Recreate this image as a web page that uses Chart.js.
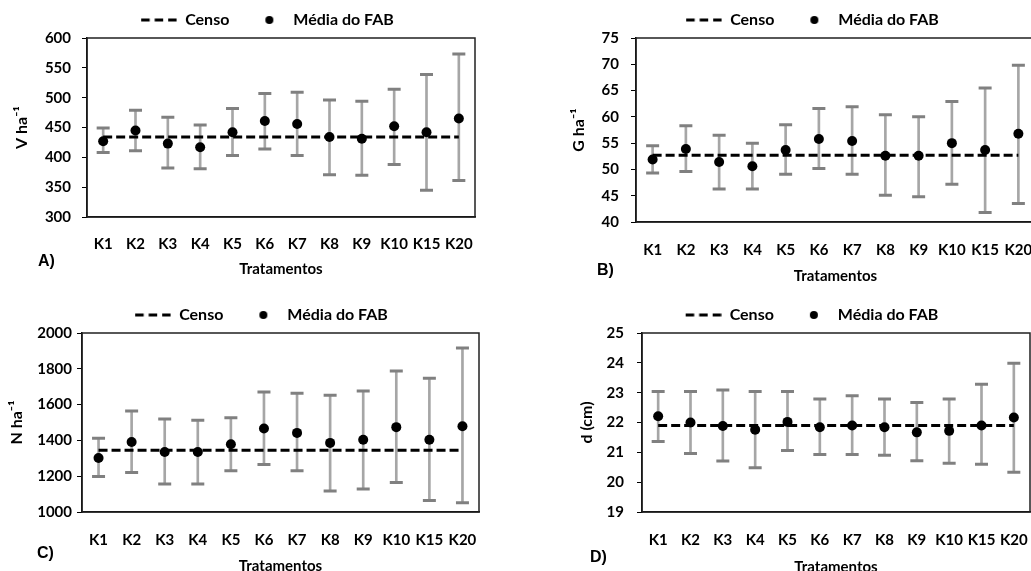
<!DOCTYPE html>
<html>
<head>
<meta charset="utf-8">
<script src="https://cdn.jsdelivr.net/npm/chart.js@4"></script>
<style>
  body { margin: 0; width: 1031px; height: 571px; overflow: hidden; background: #fff; position: relative; }
  .painel { position: absolute; overflow: hidden; }
  .letra { position: absolute; font: bold 16px "Liberation Sans", Arial, sans-serif; line-height: 16px; color: #000; }
</style>
</head>
<body>
<div class="painel" style="left:0;top:0;width:521px;height:276px"><canvas id="graficoA" width="521" height="290"></canvas></div>
<div class="painel" style="left:520px;top:0;width:511px;height:283px"><canvas id="graficoB" width="565" height="290"></canvas></div>
<div class="painel" style="left:0;top:290px;width:504px;height:281px"><canvas id="graficoC" width="504" height="290"></canvas></div>
<div class="painel" style="left:520px;top:290px;width:511px;height:281px"><canvas id="graficoD" width="566" height="290"></canvas></div>
<div class="letra" style="left:38px;top:253px">A)</div>
<div class="letra" style="left:597px;top:262px">B)</div>
<div class="letra" style="left:37px;top:545px">C)</div>
<div class="letra" style="left:590px;top:549px">D)</div>
<script>
// Tratamentos (eixo x)
const tratamentos = ['K1', 'K2', 'K3', 'K4', 'K5', 'K6', 'K7', 'K8', 'K9', 'K10', 'K15', 'K20'];

// A) Volume por hectare
const censoV = 434;
const mediaV = [427, 445, 423, 417, 442, 461, 456, 434, 431, 452, 442, 465];
const infV = [408, 411, 382, 381, 403, 414, 403, 371, 370, 388, 345, 361];
const supV = [449, 479, 467, 454, 482, 507, 509, 496, 494, 514, 539, 573];

// B) Area basal por hectare
const censoG = 52.7;
const mediaG = [51.9, 53.9, 51.4, 50.6, 53.7, 55.8, 55.4, 52.6, 52.6, 55.0, 53.7, 56.8];
const infG = [49.3, 49.6, 46.3, 46.3, 49.1, 50.2, 49.1, 45.1, 44.8, 47.2, 41.8, 43.5];
const supG = [54.5, 58.3, 56.5, 55.0, 58.5, 61.6, 61.9, 60.4, 60.0, 62.9, 65.5, 69.8];

// C) Numero de arvores por hectare
const censoN = 1345;
const mediaN = [1302, 1391, 1335, 1335, 1378, 1466, 1442, 1386, 1404, 1474, 1404, 1479];
const infN = [1199, 1221, 1157, 1157, 1230, 1266, 1230, 1118, 1129, 1165, 1064, 1051];
const supN = [1412, 1564, 1519, 1513, 1526, 1670, 1663, 1652, 1676, 1788, 1747, 1916];

// D) Diametro medio
const censoD = 21.9;
const mediaD = [22.21, 22.0, 21.88, 21.76, 22.02, 21.84, 21.9, 21.84, 21.67, 21.72, 21.9, 22.17];
const infD = [21.36, 20.96, 20.71, 20.48, 21.06, 20.93, 20.93, 20.9, 20.72, 20.63, 20.6, 20.33];
const supD = [23.04, 23.04, 23.09, 23.04, 23.04, 22.79, 22.9, 22.79, 22.67, 22.79, 23.28, 23.99];

const fonte = { family: 'Lato', weight: 'bold', size: 15 };
const fonteLegenda = { family: 'Lato', weight: 'bold', size: 16 };

// Amostras da legenda (linha tracejada e ponto)
function amostraCenso() {
    const c = document.createElement('canvas');
    c.width = 54; c.height = 6;
    const g = c.getContext('2d');
    g.strokeStyle = '#000';
    g.lineWidth = 3;
    g.setLineDash([8.5, 5]);
    g.beginPath(); g.moveTo(18, 3); g.lineTo(54, 3); g.stroke();
    return c;
}
function amostraMedia() {
    const c = document.createElement('canvas');
    c.width = 54; c.height = 10;
    const g = c.getContext('2d');
    g.fillStyle = '#000';
    g.beginPath(); g.arc(38, 5, 4, 0, Math.PI * 2); g.fill();
    return c;
}
const imgCenso = amostraCenso();
const imgMedia = amostraMedia();

// Moldura da area do grafico
const moldura = {
    id: 'moldura',
    beforeDatasetsDraw(chart) {
        const a = chart.chartArea, ctx = chart.ctx;
        ctx.save();
        ctx.strokeStyle = '#202020';
        ctx.lineWidth = 1.5;
        ctx.strokeRect(a.left, a.top, a.right - a.left, a.bottom - a.top);
        ctx.restore();
    }
};

// Desloca a legenda na horizontal depois do layout
const ajusteLegenda = {
    id: 'ajusteLegenda',
    afterLayout(chart, args, opts) {
        chart.legend.left += opts.dx;
        chart.legend.right += opts.dx;
    }
};

function criarGrafico(id, p) {
    return new Chart(document.getElementById(id), {
        type: 'bar',
        data: {
            labels: tratamentos,
            datasets: [
                {
                    type: 'line', label: 'Média do FAB', data: p.media, order: 0,
                    showLine: false, pointRadius: 5, pointBackgroundColor: '#000', pointBorderWidth: 0
                },
                {
                    type: 'line', label: 'Censo', data: tratamentos.map(() => p.censo), order: 1,
                    borderColor: '#000', borderWidth: 3, borderDash: [9, 4], pointRadius: 0, fill: false
                },
                {
                    type: 'line', label: 'inf', data: p.inf, order: 2, showLine: false,
                    pointStyle: 'line', pointRadius: 6.5, pointBorderWidth: 3, pointBorderColor: '#808080'
                },
                {
                    type: 'line', label: 'sup', data: p.sup, order: 2, showLine: false,
                    pointStyle: 'line', pointRadius: 6.5, pointBorderWidth: 3, pointBorderColor: '#808080'
                },
                {
                    label: 'erro', data: p.inf.map((v, i) => [v, p.sup[i]]), order: 3,
                    backgroundColor: '#a6a6a6', borderWidth: 0, barThickness: 2
                }
            ]
        },
        options: {
            responsive: false,
            animation: false,
            events: [],
            layout: { padding: { top: p.topo, right: p.direita, bottom: p.base, left: 0 } },
            plugins: {
                tooltip: { enabled: false },
                ajusteLegenda: { dx: p.dxLegenda },
                legend: {
                    position: 'top',
                    labels: {
                        usePointStyle: true,
                        pointStyleWidth: 54,
                        padding: 2,
                        color: '#000',
                        font: fonteLegenda,
                        generateLabels: () => [
                            { text: 'Censo', pointStyle: imgCenso, fillStyle: '#000', strokeStyle: '#000', lineWidth: 0, hidden: false, fontColor: '#000' },
                            { text: 'Média do FAB', pointStyle: imgMedia, fillStyle: '#000', strokeStyle: '#000', lineWidth: 0, hidden: false, fontColor: '#000' }
                        ]
                    }
                }
            },
            scales: {
                x: {
                    ticks: { color: '#000', font: fonte, padding: p.padX, autoSkip: false, maxRotation: 0 },
                    grid: { display: false },
                    border: { display: true, color: '#000', width: 1.5 },
                    title: { display: true, text: 'Tratamentos', color: '#000', font: fonte, padding: 0 },
                    afterFit: s => { s.height = p.altX; }
                },
                y: {
                    min: p.min, max: p.max,
                    ticks: { stepSize: p.passo, color: '#000', font: fonte, padding: p.padY, format: { useGrouping: false } },
                    grid: { drawOnChartArea: false, drawTicks: true, tickLength: 5, color: '#000', lineWidth: 1 },
                    border: { display: true, color: '#000', width: 1.5 },
                    title: { display: true, text: p.titulo, color: '#000', font: { family: 'Lato', weight: 'bold', size: 16 }, padding: { top: p.padTitulo } },
                    afterFit: s => { s.width = p.largY; }
                }
            }
        },
        plugins: [moldura, ajusteLegenda]
    });
}

criarGrafico('graficoA', {
    media: mediaV, inf: infV, sup: supV, censo: censoV, titulo: 'V ha⁻¹',
    min: 300, max: 600, passo: 50, dxLegenda: 21,
    topo: 10, direita: 46, base: 12, altX: 61, largY: 87, padY: 11, padX: 10, padTitulo: 12
});
criarGrafico('graficoB', {
    media: mediaG, inf: infG, sup: supG, censo: censoG, titulo: 'G ha⁻¹',
    min: 40, max: 75, passo: 5, dxLegenda: 26,
    topo: 10, direita: 50, base: 5, altX: 63, largY: 116, padY: 12, padX: 11, padTitulo: 49
});
criarGrafico('graficoC', {
    media: mediaN, inf: infN, sup: supN, censo: censoN, titulo: 'N ha⁻¹',
    min: 1000, max: 2000, passo: 200, dxLegenda: 13,
    topo: 15, direita: 25, base: 5, altX: 63, largY: 82, padY: 5, padX: 11, padTitulo: 7
});
criarGrafico('graficoD', {
    media: mediaD, inf: infD, sup: supD, censo: censoD, titulo: 'd (cm)',
    min: 19, max: 25, passo: 1, dxLegenda: 28,
    topo: 15, direita: 56, base: 4, altX: 64, largY: 122, padY: 13, padX: 11, padTitulo: 57
});
</script>
</body>
</html>
